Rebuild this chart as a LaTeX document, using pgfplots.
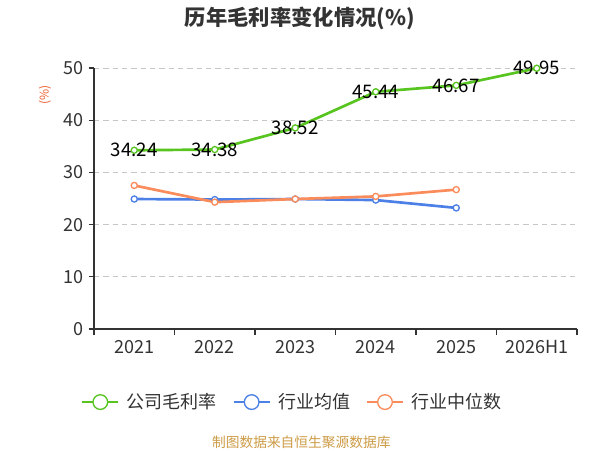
\documentclass[border=0pt]{standalone}
\usepackage{pgfplots}
\pgfplotsset{compat=1.18}
\usepackage{fontspec}
\setmainfont{Noto Sans CJK SC}
\definecolor{cgreen}{RGB}{88,196,32}
\definecolor{cblue}{RGB}{76,128,230}
\definecolor{corange}{RGB}{250,140,92}
\definecolor{ctext}{RGB}{51,51,51}
\definecolor{cunit}{RGB}{235,90,40}
\definecolor{cfoot}{RGB}{204,155,70}
\begin{document}
\begin{tikzpicture}
\useasboundingbox (0,0) rectangle (450pt,337.5pt);
\begin{axis}[
  at={(70.5pt,90.75pt)}, anchor=south west,
  scale only axis, width=362.25pt, height=195.75pt,
  xmin=-0.5, xmax=5.5, ymin=0, ymax=50,
  axis x line=bottom, axis y line=left,
  axis line style={-, ctext, line width=0.8pt},
  xtick={0,...,5},
  xticklabels={2021,2022,2023,2024,2025,2026H1},
  minor xtick={-0.5,0.5,...,5.5},
  major x tick style={draw=none},
  minor x tick style={ctext, line width=0.8pt},
  minor tick length=4.5pt,
  major tick length=4pt,
  tick align=outside,
  ytick={0,10,...,50},
  ytick style={ctext, line width=0.8pt},
  ymajorgrids,
  major grid style={gray!45, dash pattern=on 4pt off 3pt, line width=0.6pt},
  /pgf/number format/assume math mode=true,
  tick label style={font=\fontsize{13.5}{15}\selectfont, text=ctext},
  xticklabel style={yshift=-1pt},
  clip=false,
  legend style={at={(0.412,-0.28)}, anchor=center, legend columns=3, draw=none, fill=none,
    font=\fontsize{13.5}{15}\selectfont, text=ctext,
    /tikz/every odd column/.append style={column sep=4pt},
    /tikz/every even column/.append style={column sep=10pt}},
  legend image code/.code={
    \draw[#1, line width=1pt] (0pt,0pt) -- (27pt,0pt);
    \draw[#1, line width=1pt, fill=white] (13.5pt,0pt) circle (5.5pt);
  },
  every axis plot/.append style={line width=2pt, mark=*, mark size=2.3pt},
]
\addplot[cgreen, mark options={fill=white, line width=1pt},
  nodes near coords={\pgfmathprintnumber[fixed,precision=2,fixed zerofill]{\pgfplotspointmeta}},
  nodes near coords align={center},
  every node near coord/.append style={anchor=center, font=\fontsize{14}{16}\selectfont, text=black}]
  coordinates {(0,34.24) (1,34.38) (2,38.52) (3,45.44) (4,46.67) (5,49.95)};
\addlegendentry{公司毛利率}
\addplot[cblue, mark options={fill=white, line width=1pt}]
  coordinates {(0,24.9) (1,24.8) (2,24.9) (3,24.7) (4,23.2)};
\addlegendentry{行业均值}
\addplot[corange, mark options={fill=white, line width=1pt}]
  coordinates {(0,27.5) (1,24.3) (2,24.9) (3,25.4) (4,26.7)};
\addlegendentry{行业中位数}
\end{axis}
\node[font=\bfseries\fontsize{16}{18}\selectfont, text=ctext] at (225pt,323.5pt) {历年毛利率变化情况(\%)};
\node[rotate=90, font=\fontsize{9}{10}\selectfont, text=cunit] at (33.75pt,266pt) {(\%)};
\node[font=\fontsize{10.3}{12}\selectfont, text=cfoot] at (226pt,5.5pt) {制图数据来自恒生聚源数据库};
\end{tikzpicture}
\end{document}
